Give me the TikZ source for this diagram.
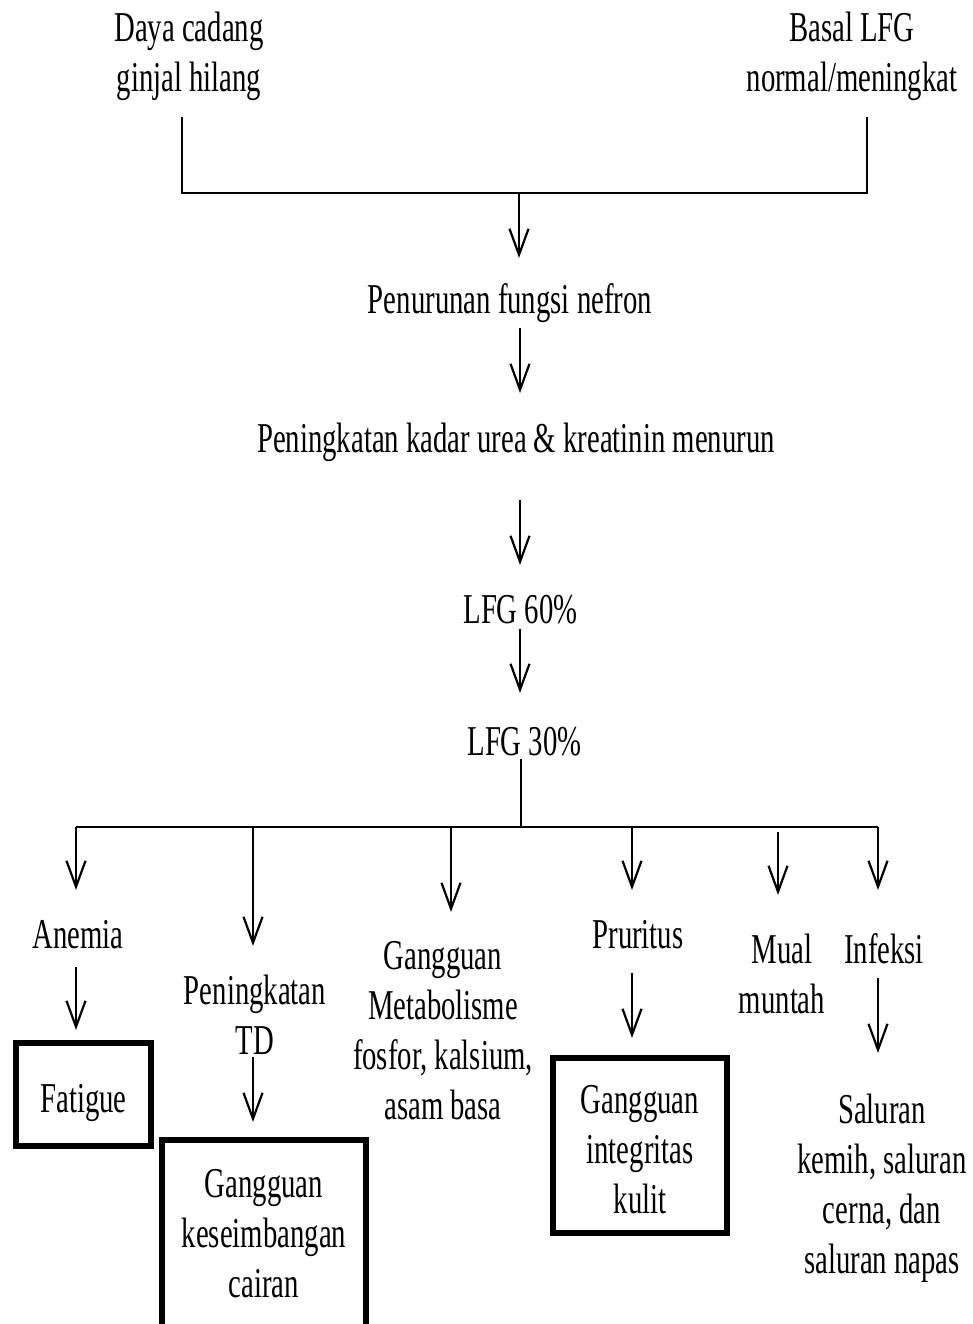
\documentclass[tikz,border=0pt]{standalone}
\usepackage{fontspec}
\setmainfont{Liberation Serif}[FakeStretch=0.676]
\usetikzlibrary{arrows.meta}
\newcommand\mainfnt{\fontsize{42.5}{50}\selectfont}
\newcommand\lines[1]{\vbox{\let\\\cr\halign{\strut\hfil##\hfil\cr#1\crcr}}}
\begin{document}
\begin{tikzpicture}[x=1pt,y=-1pt,
  ln/.style={line width=2.2pt},
  arr/.style={line width=2.2pt,-{Straight Barb[length=26pt,width=19pt,line width=2.2pt]}},
  lbl/.style={anchor=north,inner sep=0pt,outer sep=0pt,font=\mainfnt},
  box/.style={draw,line width=6pt,inner sep=0pt,outer sep=0pt,font=\mainfnt}]
\useasboundingbox (0,0) rectangle (973,1324);
\fill[white] (0,0) rectangle (973,1324);
% top labels
\node[lbl] (daya) at (189,7) {\lines{Daya cadang\\ginjal hilang}};
\node[lbl] (basal) at (852,7) {\lines{Basal LFG\\normal/meningkat}};
\node[lbl] (pen) at (510,278) {\lines{Penurunan fungsi nefron}};
\node[lbl] (kad) at (516,417) {\lines{Peningkatan kadar urea \& kreatinin menurun}};
\node[lbl] (lfg60) at (520.5,588) {\lines{LFG 60\%}};
\node[lbl] (lfg30) at (524.5,720) {\lines{LFG 30\%}};
% second level labels
\node[lbl] (anemia) at (78,913) {\lines{Anemia}};
\node[lbl] (pentd) at (255,969) {\lines{Peningkatan\\TD}};
\node[lbl] (gmet) at (443,934) {\lines{Gangguan\\Metabolisme\\fosfor, kalsium,\\asam basa}};
\node[lbl] (prur) at (638,913) {\lines{Pruritus}};
\node[lbl] (mual) at (782,928) {\lines{Mual\\muntah}};
\node[lbl] (inf) at (884,928) {\lines{Infeksi}};
\node[lbl] (sal) at (882,1088) {\lines{Saluran\\kemih, saluran\\cerna, dan\\saluran napas}};
% boxes
\node[box,minimum width=135pt,minimum height=103pt,text depth=0pt] (fat) at (83.5,1094.5) {\lines{Fatigue}};
\node[box,anchor=north,minimum width=204pt,minimum height=194pt] (gkc) at (264,1140) {\lines{Gangguan\\keseimbangan\\cairan}};
\node[box,minimum width=174pt,minimum height=175pt,text depth=0pt] (gik) at (640,1145.5) {\lines{Gangguan\\integritas\\kulit}};
% top junction
\coordinate (tl) at (182,117);
\coordinate (tr) at (867,117);
\coordinate (j1) at (519,193);
\coordinate (sp) at (520,0);
\draw[ln] (tl) |- (j1) -| (tr);
\draw[arr,shorten >=20pt] (j1) -- (j1 |- pen.north);
\draw[arr,shorten >=24pt] (pen.south -| sp) -- (kad.north -| sp);
\draw[arr,shorten <=33pt,shorten >=23pt] (kad.south -| sp) -- (lfg60.north -| sp);
\draw[arr,shorten <=-9pt,shorten >=27pt] (lfg60.south -| sp) -- (lfg30.north -| sp);
% bus
\coordinate (bus) at (521,827);
\coordinate (d1) at (76,827);
\coordinate (d2) at (253,827);
\coordinate (d3) at (451,827);
\coordinate (d4) at (632,827);
\coordinate (d5) at (778,832);
\coordinate (d6) at (878,827);
\draw[ln,shorten <=-11pt] (lfg30.south -| bus) -- (bus);
\draw[ln] (d1) -- (d6);
\draw[arr,shorten >=23pt] (d1) -- (d1 |- anemia.north);
\draw[arr,shorten >=23pt] (d2) -- (d2 |- pentd.north);
\draw[arr,shorten >=22pt] (d3) -- (d3 |- gmet.north);
\draw[arr,shorten >=23pt] (d4) -- (d4 |- prur.north);
\draw[arr,shorten >=33pt] (d5) -- (d5 |- mual.north);
\draw[arr,shorten >=38pt] (d6) -- (d6 |- inf.north);
% second level arrows
\draw[arr,shorten <=4pt,shorten >=13pt] (anemia.south -| d1) -- (fat.north -| d1);
\draw[arr,shorten <=-12pt,shorten >=18pt] (pentd.south -| d2) -- (gkc.north -| d2);
\draw[arr,shorten <=10pt,shorten >=20pt] (prur.south -| d4) -- (gik.north -| d4);
\draw[arr,shorten >=35pt] (inf.south -| d6) -- (sal.north -| d6);
\end{tikzpicture}
\end{document}
